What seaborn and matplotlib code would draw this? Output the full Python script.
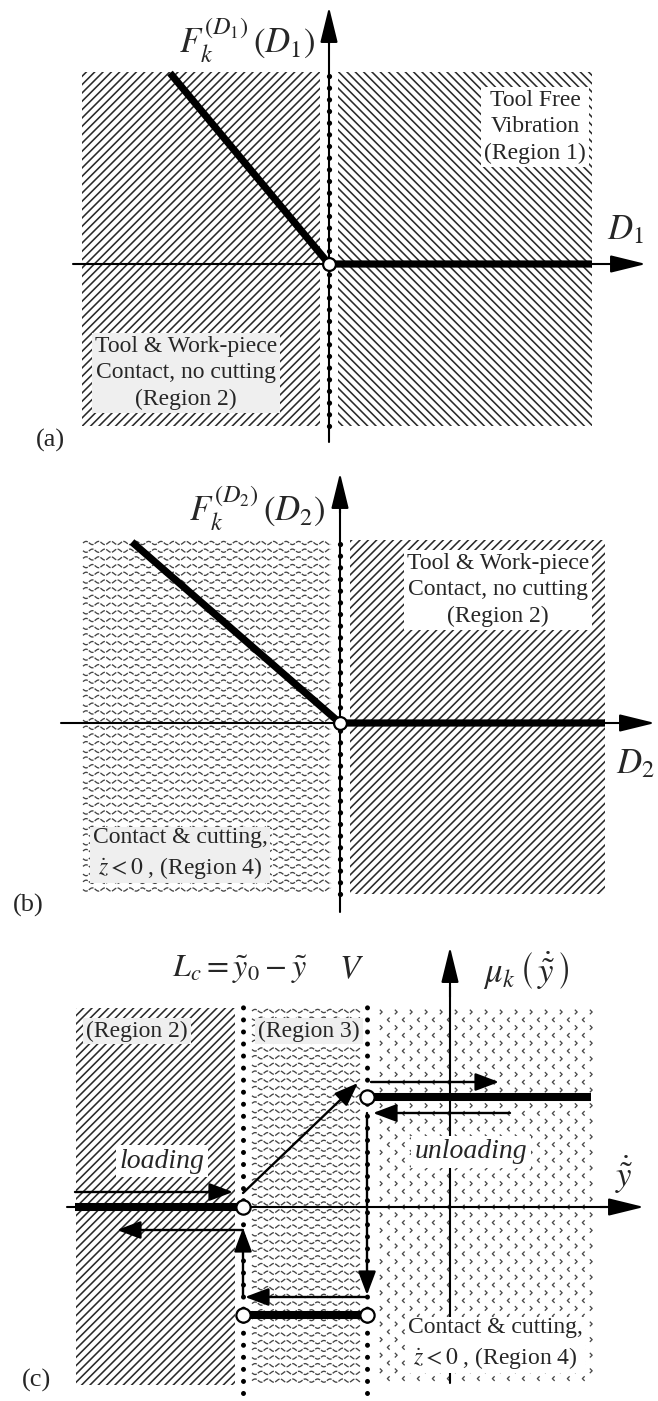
import numpy as np
import matplotlib
matplotlib.use("Agg")
import matplotlib.pyplot as plt
import seaborn as sns
import pandas as pd
from matplotlib.patches import Rectangle
from matplotlib.path import Path
from matplotlib.collections import LineCollection

sns.set_theme(style="white")
plt.rcParams["font.family"] = ["Liberation Serif", "DejaVu Serif"]
plt.rcParams["mathtext.fontset"] = "stix"
plt.rcParams["hatch.linewidth"] = 1.15

W, H = 658, 1401
PX = 100.0  # figure pixels per data unit

# ---------------- data ----------------
# (a) force law over D1
a_D1 = [-1.59, 0.0, 2.63]
a_F = [1.91, 0.0, 0.0]
a_regions = [(-2.47, -0.09, -1.62, 1.92, "////"), (0.09, 2.63, -1.62, 1.92, "\\\\\\\\")]

# (b) force law over D2
b_D2 = [-2.08, 0.0, 2.65]
b_F = [1.81, 0.0, 0.0]
b_regions = [(-2.57, -0.09, -1.71, 1.83, "wave"), (0.10, 2.65, -1.71, 1.83, "////")]

# (c) friction law mu_k over relative velocity
c_branches = {
    "loading": ([-3.75, -2.07], [0.0, 0.0]),
    "sliding": ([-0.83, 1.41], [1.10, 1.10]),
    "cutting": ([-2.07, -0.83], [-1.08, -1.08]),
}
c_open_x = [-2.07, -0.83, -2.07, -0.83]
c_open_y = [0.0, 1.10, -1.08, -1.08]
c_bounds = [-2.07, -0.83]  # L_c and V
c_regions = [(-3.74, -2.15, -1.78, 1.99, "////"),
             (-1.98, -0.90, -1.78, 1.99, "wave"),
             (-0.73, 1.42, -1.78, 1.99, "chevron")]
c_flow = [((-3.75, 0.15), (-2.17, 0.15)),
          ((-2.07, 0.14), (-0.92, 1.24)),
          ((-0.79, 1.25), (0.49, 1.25)),
          ((0.60, 0.94), (-0.77, 0.94)),
          ((-0.83, 0.94), (-0.83, -0.88)),
          ((-0.83, -0.90), (-2.05, -0.90)),
          ((-2.07, -0.90), (-2.07, -0.21)),
          ((-2.07, -0.23), (-3.33, -0.23))]

TXT_R2 = "Tool & Work-piece\nContact, no cutting\n(Region 2)"
TXT_R4 = "Contact & cutting,\n$\\dot{z}<0$ , (Region 4)"

fig = plt.figure(figsize=(W / 100, H / 100), dpi=100)


def panel(top, bottom, ox, oy):
    ax = fig.add_axes([0, 1 - bottom / H, 1, (bottom - top) / H])
    ax.set_xlim(-ox / PX, (W - ox) / PX)
    ax.set_ylim((oy - bottom) / PX, (oy - top) / PX)
    ax.axis("off")
    return ax


def fill_region(ax, x0, x1, y0, y1, kind):
    if kind == "wave":
        xs = np.linspace(x0, x1, 600)
        segs = []
        for k, r in enumerate(np.arange(y1 - 0.03, y0, -0.077)):
            ys = r + 0.016 * np.sin(2 * np.pi * (xs - x0) / 0.125 + k * np.pi)
            segs.append(np.column_stack([xs, ys]))
        ax.add_collection(LineCollection(segs, colors="#444444", linewidths=0.95,
                                         linestyles=(0, (4, 1)), zorder=1))
    elif kind == "chevron":
        right = Path([(-0.5, 1), (0.5, 0), (-0.5, -1)], [Path.MOVETO, Path.LINETO, Path.LINETO])
        left = Path([(0.5, 1), (-0.5, 0), (0.5, -1)], [Path.MOVETO, Path.LINETO, Path.LINETO])
        rows = np.arange(y1 - 0.04, y0, -0.078)
        for k, r in enumerate(rows):
            xs = np.arange(x0 + 0.04 + (0.075 if k % 2 else 0), x1, 0.15)
            ax.scatter(xs, np.full_like(xs, r), marker=left if k % 2 else right, s=11,
                       facecolors="none", edgecolors="#4a4a4a", linewidths=0.95, zorder=1)
    else:
        ax.add_patch(Rectangle((x0, y0), x1 - x0, y1 - y0, facecolor="white",
                               edgecolor="#2a2a2a", hatch=kind, lw=0, zorder=1))


def axis_arrow(ax, start, end, ms=20):
    ax.annotate("", xy=end, xytext=start, zorder=4,
                arrowprops=dict(arrowstyle="-|>,head_length=1.1,head_width=0.27",
                                mutation_scale=ms, lw=1.5, color="black",
                                shrinkA=0, shrinkB=0))


def flow_arrow(ax, start, end):
    ax.annotate("", xy=end, xytext=start, zorder=4,
                arrowprops=dict(arrowstyle="-|>,head_length=0.85,head_width=0.32",
                                mutation_scale=17, lw=1.7, color="black",
                                shrinkA=0, shrinkB=0))


def beaded_axis(ax, y0, y1, ylo, yhi):
    ax.plot([0, 0], [y0, y1], color="black", lw=1.5, zorder=3)
    ax.plot([0, 0], [ylo, yhi], color="black", lw=3.8, ls=(0, (0.01, 2.2)),
            dash_capstyle="round", zorder=3)


def label_box(ax, x, y, s, fc, size=17, style="normal"):
    ax.text(x, y, s, ha="center", va="center", fontsize=size, style=style,
            linespacing=1.33, zorder=6,
            bbox=dict(boxstyle="square,pad=0.12", fc=fc, ec="none"))


def thick(ax, xs, ys, lw):
    sns.lineplot(x=xs, y=ys, ax=ax, color="black", lw=lw, sort=False,
                 estimator=None, solid_capstyle="butt", zorder=5, legend=False)


def open_pts(ax, xs, ys, ms):
    sns.scatterplot(x=xs, y=ys, ax=ax, s=ms, color="white", edgecolor="black",
                    linewidth=1.6, zorder=7, legend=False)


GRAY = "#efefef"

# ---------------- (a) ----------------
ax = panel(0, 455, 329, 264)
for r in a_regions:
    fill_region(ax, *r)
ax.plot([-2.56, 0], [0, 0], color="black", lw=1.5, zorder=3)
axis_arrow(ax, (0, 0), (3.17, 0))
beaded_axis(ax, -1.78, 2.3, -1.62, 1.92)
axis_arrow(ax, (0, 2.2), (0, 2.57))
thick(ax, a_D1, a_F, 5.2)
open_pts(ax, [0.0], [0.0], 85)
ax.text(-0.82, 2.23, r"$F_k^{(D_1)}\,\left(D_1\right)$", fontsize=25, ha="center", va="center")
ax.text(2.96, 0.33, r"$D_1$", fontsize=25, ha="center", va="center")
ax.text(-2.79, -1.76, "(a)", fontsize=19, ha="center", va="center")
label_box(ax, 2.06, 1.37, "Tool Free\nVibration\n(Region 1)", "white")
label_box(ax, -1.43, -1.09, TXT_R2, GRAY)

# ---------------- (b) ----------------
ax = panel(455, 920, 340, 723)
for r in b_regions:
    fill_region(ax, *r)
ax.plot([-2.79, 0], [0, 0], color="black", lw=1.5, zorder=3)
axis_arrow(ax, (0, 0), (3.15, 0))
beaded_axis(ax, -1.89, 2.2, -1.71, 1.83)
axis_arrow(ax, (0, 2.1), (0, 2.50))
thick(ax, b_D2, b_F, 5.2)
open_pts(ax, [0.0], [0.0], 85)
ax.text(-0.83, 2.14, r"$F_k^{(D_2)}\,\left(D_2\right)$", fontsize=25, ha="center", va="center")
ax.text(2.95, -0.42, r"$D_2$", fontsize=25, ha="center", va="center")
ax.text(-3.12, -1.82, "(b)", fontsize=19, ha="center", va="center")
label_box(ax, 1.58, 1.33, TXT_R2, "white")
label_box(ax, -1.60, -1.31, TXT_R4, GRAY)

# ---------------- (c) ----------------
ax = panel(920, 1401, 450, 1207)
for r in c_regions:
    fill_region(ax, *r)
for xb in c_bounds:
    ax.plot([xb, xb], [-1.86, 2.00], color="black", lw=3.6, ls=(0, (0.01, 2.4)),
            dash_capstyle="round", zorder=3)
ax.plot([-3.83, 1.6], [0, 0], color="black", lw=1.5, zorder=3)
axis_arrow(ax, (1.5, 0), (1.94, 0))
ax.plot([0, 0], [-1.76, 2.2], color="black", lw=1.5, zorder=3)
axis_arrow(ax, (0, 2.1), (0, 2.60))
for xs, ys in c_branches.values():
    thick(ax, xs, ys, 5.8)
for s, e in c_flow:
    flow_arrow(ax, s, e)
open_pts(ax, c_open_x, c_open_y, 105)
ax.text(-2.10, 2.37, r"$L_c=\tilde{y}_0-\tilde{y}$", fontsize=23, ha="center", va="center")
ax.text(-0.99, 2.37, r"$V$", fontsize=24, ha="center", va="center")
ax.text(0.76, 2.36, r"$\mu_k\,\left(\,\dot{\tilde{y}}\,\right)$", fontsize=25, ha="center", va="center")
ax.text(1.74, 0.32, r"$\dot{\tilde{y}}$", fontsize=25, ha="center", va="center")
ax.text(-4.13, -1.73, "(c)", fontsize=19, ha="center", va="center")
label_box(ax, -3.13, 1.76, "(Region 2)", GRAY)
label_box(ax, -1.41, 1.76, "(Region 3)", GRAY)
label_box(ax, -2.88, 0.46, "loading", "white", size=20, style="italic")
label_box(ax, 0.21, 0.55, "unloading", "white", size=20, style="italic")
label_box(ax, 0.45, -1.37, TXT_R4, "white")

fig.savefig("out.png", dpi=100)
